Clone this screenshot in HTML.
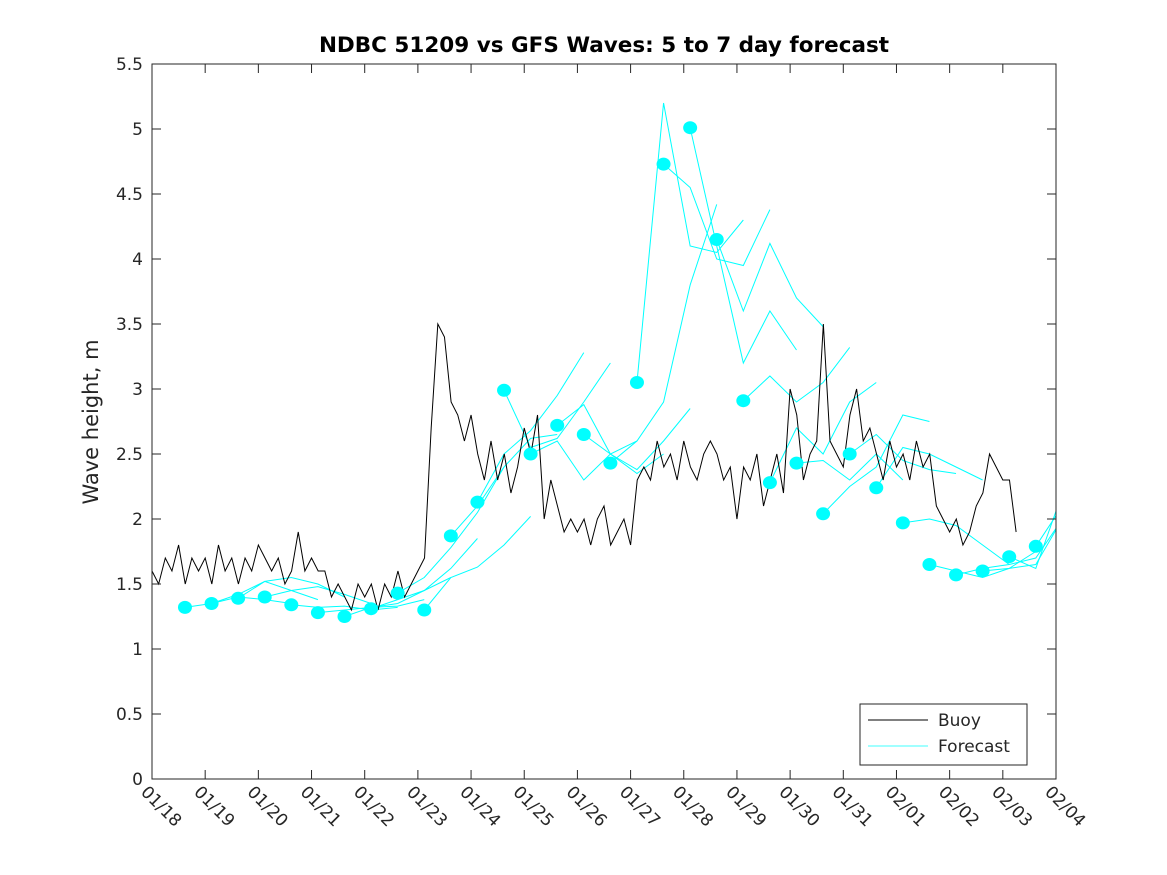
<!DOCTYPE html>
<html><head><meta charset="utf-8"><style>
body{margin:0;background:#fff;}
svg{display:block;font-family:"DejaVu Sans","Liberation Sans",sans-serif;}
</style></head><body>
<svg id="c" width="1167" height="875">
<defs><clipPath id="clip"><rect x="152" y="64" width="904" height="715"/></clipPath></defs>
<rect width="1167" height="875" fill="#fff"/>
<text x="604" y="52" font-size="21.5" font-weight="bold" text-anchor="middle">NDBC 51209 vs GFS Waves: 5 to 7 day forecast</text>
<text transform="translate(98,422) rotate(-90)" font-size="21" text-anchor="middle" fill="#262626">Wave height, m</text>
<g id="plot" clip-path="url(#clip)"></g>
<g id="axes"></g>
<rect x="152" y="64" width="904" height="715" fill="none" stroke="#262626" stroke-width="1"/>
<g>
<rect x="860" y="704" width="167" height="61" fill="#fff" stroke="#262626"/>
<line x1="868" y1="720" x2="928" y2="720" stroke="#000"/>
<text x="938" y="726" font-size="17" fill="#262626">Buoy</text>
<line x1="868" y1="746" x2="928" y2="746" stroke="#00ffff" stroke-width="0.8"/>
<text x="938" y="752" font-size="17" fill="#262626">Forecast</text>
</g>
</svg>
<script>
const xTickLabels=["01/18","01/19","01/20","01/21","01/22","01/23","01/24","01/25","01/26","01/27","01/28","01/29","01/30","01/31","02/01","02/02","02/03","02/04"];
const yTicks=[0,0.5,1,1.5,2,2.5,3,3.5,4,4.5,5,5.5];
const buoyStep=0.125; // days
const buoy=[
1.6,1.5,1.7,1.6,1.8,1.5,1.7,1.6,
1.7,1.5,1.8,1.6,1.7,1.5,1.7,1.6,
1.8,1.7,1.6,1.7,1.5,1.6,1.9,1.6,
1.7,1.6,1.6,1.4,1.5,1.4,1.3,1.5,
1.4,1.5,1.3,1.5,1.4,1.6,1.4,1.5,
1.6,1.7,2.7,3.5,3.4,2.9,2.8,2.6,
2.8,2.5,2.3,2.6,2.3,2.5,2.2,2.4,
2.7,2.5,2.8,2.0,2.3,2.1,1.9,2.0,
1.9,2.0,1.8,2.0,2.1,1.8,1.9,2.0,
1.8,2.3,2.4,2.3,2.6,2.4,2.5,2.3,
2.6,2.4,2.3,2.5,2.6,2.5,2.3,2.4,
2.0,2.4,2.3,2.5,2.1,2.3,2.5,2.2,
3.0,2.8,2.3,2.5,2.6,3.5,2.6,2.5,
2.4,2.8,3.0,2.6,2.7,2.5,2.3,2.6,
2.4,2.5,2.3,2.6,2.4,2.5,2.1,2.0,
1.9,2.0,1.8,1.9,2.1,2.2,2.5,2.4,
2.3,2.3,1.9];
const dotStart=0.62, dotStep=0.5;
const dotValues=[1.32,1.35,1.39,1.40,1.34,1.28,1.25,1.31,1.43,1.30,1.87,2.13,2.99,2.50,2.72,2.65,2.43,3.05,4.73,5.01,4.15,2.91,2.28,2.43,2.04,2.50,2.24,1.97,1.65,1.57,1.60,1.71,1.79];
const fcStep=0.5;
const forecasts=[
[1.32,1.35,1.40,1.38,1.35],
[1.35,1.42,1.52,1.45,1.38],
[1.39,1.52,1.55,1.50,1.40],
[1.40,1.45,1.48,1.42,1.35],
[1.34,1.32,1.33,1.30,1.32],
[1.28,1.30,1.32,1.33,1.38],
[1.25,1.32,1.35,1.45,1.55],
[1.31,1.38,1.45,1.62,1.85],
[1.43,1.55,1.78,2.05,2.40],
[1.30,1.55,1.63,1.80,2.02],
[1.87,2.10,2.40,2.62,2.65],
[2.13,2.50,2.68,2.95,3.28],
[2.99,2.55,2.62,2.90,3.20],
[2.50,2.60,2.30,2.50,2.60],
[2.72,2.88,2.50,2.35,2.50],
[2.65,2.50,2.38,2.60,2.85],
[2.43,2.60,2.90,3.80,4.42],
[3.05,5.20,4.10,4.05,4.30],
[4.73,4.55,4.00,3.95,4.38],
[5.01,4.10,3.20,3.60,3.30],
[4.15,3.60,4.12,3.70,3.48],
[2.91,3.10,2.90,3.05,3.32],
[2.28,2.70,2.50,2.90,3.05],
[2.43,2.45,2.30,2.50,2.30],
[2.04,2.25,2.40,2.80,2.75],
[2.50,2.65,2.45,2.38,2.35],
[2.24,2.55,2.50,2.40,2.30],
[1.97,2.00,1.95,1.80,1.65],
[1.65,1.60,1.55,1.62,1.75],
[1.57,1.62,1.65,1.70,2.00],
[1.60,1.62,1.65,2.00,2.55],
[1.71,1.62,2.20,2.80,2.80],
[1.79,2.10,2.60,2.50,2.45]];
const X0=152,X1=1056,Y0=779,Y1=64,DAYS=17,YMAX=5.5;
const sx=d=>X0+d/DAYS*(X1-X0);
const sy=v=>Y0-v/YMAX*(Y0-Y1);
const NS="http://www.w3.org/2000/svg";
const svg=document.getElementById('c');
const plot=document.getElementById('plot');
const axes=document.getElementById('axes');
function mk(t,a,p){const e=document.createElementNS(NS,t);for(const k in a)e.setAttribute(k,a[k]);(p||plot).appendChild(e);return e;}
xTickLabels.forEach((l,i)=>{
 const x=sx(i);
 mk('line',{x1:x,y1:Y0,x2:x,y2:Y0-9,stroke:'#262626'},axes);
 mk('line',{x1:x,y1:Y1,x2:x,y2:Y1+9,stroke:'#262626'},axes);
 const t=mk('text',{x:0,y:0,'font-size':17,fill:'#262626',transform:`translate(${x-12},${Y0+14}) rotate(45)`},svg);
 t.textContent=l;
 
 
});
yTicks.forEach(v=>{
 const y=sy(v);
 mk('line',{x1:X0,y1:y,x2:X0+9,y2:y,stroke:'#262626'},axes);
 mk('line',{x1:X1,y1:y,x2:X1-9,y2:y,stroke:'#262626'},axes);
 const t=mk('text',{x:X0-9,y:y+6,'font-size':17,fill:'#262626','text-anchor':'end'},svg);
 t.textContent=String(v);
 
 
});
forecasts.forEach((f,k)=>{
 const t0=dotStart+k*dotStep;
 const p=mk('polyline',{points:f.map((v,i)=>sx(t0+i*fcStep)+','+sy(v)).join(' '),fill:'none',stroke:'#00ffff','stroke-width':1});
 
 
});
const bl=mk('polyline',{points:buoy.map((v,i)=>sx(i*buoyStep)+','+sy(v)).join(' '),fill:'none',stroke:'#000','stroke-width':1});


dotValues.forEach((v,k)=>{
 const c=mk('ellipse',{cx:sx(dotStart+k*dotStep),cy:sy(v),rx:7,ry:6.5,fill:'#00ffff'});
 
 
});
</script>
</body></html>
